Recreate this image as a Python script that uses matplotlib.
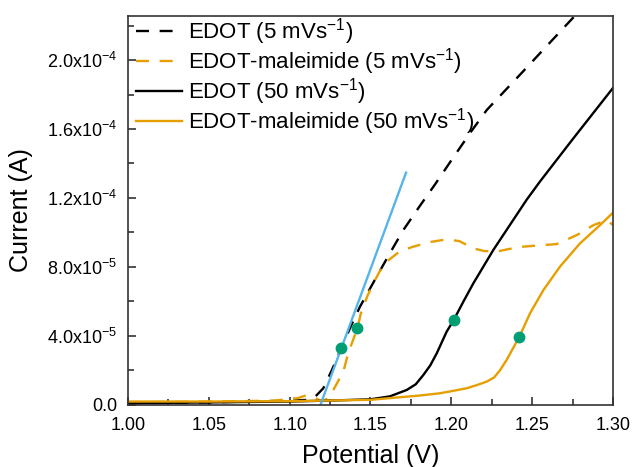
import math
import matplotlib
matplotlib.use("Agg")
import matplotlib.pyplot as plt
from matplotlib.ticker import MultipleLocator, FuncFormatter

plt.rcParams['font.family'] = ['Liberation Sans', 'DejaVu Sans']
plt.rcParams['mathtext.fontset'] = 'custom'
plt.rcParams['mathtext.rm'] = 'Liberation Sans'
plt.rcParams['mathtext.it'] = 'Liberation Sans:italic'
plt.rcParams['mathtext.bf'] = 'Liberation Sans:bold'

# EDOT 5 mV/s (black dashed), current in 1e-5 A
edot5_x = [1.000, 1.050, 1.100, 1.112, 1.116, 1.1208, 1.126, 1.132, 1.138, 1.1435, 1.1538,
           1.162, 1.1703, 1.1806, 1.190, 1.2012, 1.2126, 1.2219, 1.245, 1.2744, 1.285]
edot5_y = [0.1, 0.15, 0.25, 0.3, 0.5, 0.97, 2.0, 3.3, 4.6, 5.7, 7.44,
           8.8, 10.14, 11.55, 12.8, 14.35, 15.9, 17.1, 19.4, 22.36, 23.4]

# EDOT-maleimide 5 mV/s (orange dashed)
mal5_x = [1.000, 1.050, 1.090, 1.105, 1.110, 1.115, 1.120, 1.124, 1.127, 1.1332, 1.1362,
          1.1419, 1.144, 1.148, 1.1517, 1.156, 1.160, 1.168, 1.1765, 1.187, 1.1971,
          1.205, 1.2136, 1.220, 1.228, 1.236, 1.2445, 1.2652, 1.2776, 1.288, 1.2962, 1.300]
mal5_y = [0.15, 0.2, 0.25, 0.4, 0.55, 0.45, 0.2, 0.4, 0.87, 1.93, 3.0,
          4.45, 5.3, 6.3, 7.05, 7.8, 8.31, 8.9, 9.18, 9.45, 9.6,
          9.5, 9.08, 8.93, 8.89, 9.05, 9.18, 9.33, 9.85, 10.43, 10.72, 10.43]

# EDOT 50 mV/s (black solid)
edot50_x = [1.000, 1.050, 1.100, 1.130, 1.150, 1.162, 1.1724, 1.178, 1.1827, 1.187, 1.191,
            1.1971, 1.2015, 1.2075, 1.2136, 1.226, 1.2466, 1.2548, 1.275, 1.300]
edot50_y = [0.1, 0.15, 0.2, 0.27, 0.33, 0.5, 0.87, 1.2, 1.74, 2.3, 3.0,
            4.25, 4.93, 6.0, 7.05, 8.99, 11.9, 12.95, 15.4, 18.38]

# EDOT-maleimide 50 mV/s (orange solid)
mal50_x = [1.000, 1.050, 1.100, 1.150, 1.1806, 1.193, 1.2012, 1.2095, 1.2157, 1.222,
           1.2265, 1.2300, 1.2342, 1.2421, 1.2487, 1.257, 1.2672, 1.2796, 1.292, 1.300]
mal50_y = [0.2, 0.2, 0.22, 0.3, 0.55, 0.68, 0.82, 0.97, 1.15, 1.36,
           1.6, 2.0, 2.61, 3.96, 5.32, 6.67, 8.02, 9.37, 10.43, 11.15]

# tangent line (blue)
tan_x = [1.119, 1.172]
tan_y = [0.0, 13.47]

# marked points (green)
pts_x = [1.1317, 1.1419, 1.2015, 1.2421]
pts_y = [3.30, 4.45, 4.93, 3.96]

labels = ['EDOT (5 mVs$^{-1}$)', 'EDOT-maleimide (5 mVs$^{-1}$)',
          'EDOT (50 mVs$^{-1}$)', 'EDOT-maleimide (50 mVs$^{-1}$)']

scale = 1e-5
orange = '#E69F00'
blue = '#56B4E9'
green = '#009E73'

fig = plt.figure(figsize=(6.33, 4.67), dpi=100)
ax = fig.add_axes([0.2022, 0.1328, 0.7662, 0.8329])

lw = 1.7
dash = (5.5, 4.5)
ax.plot(edot5_x, [v * scale for v in edot5_y], color='black', lw=lw, dashes=dash, label=labels[0])
ax.plot(mal5_x, [v * scale for v in mal5_y], color=orange, lw=lw, dashes=dash, label=labels[1])
ax.plot(edot50_x, [v * scale for v in edot50_y], color='black', lw=lw, label=labels[2])
ax.plot(mal50_x, [v * scale for v in mal50_y], color=orange, lw=lw, label=labels[3])
ax.plot(tan_x, [v * scale for v in tan_y], color=blue, lw=lw)
ax.plot(pts_x, [v * scale for v in pts_y], 'o', color=green, ms=7.5, zorder=5)

ax.set_xlim(1.0, 1.3)
ax.set_ylim(0, 2.255e-4)
ax.xaxis.set_major_locator(MultipleLocator(0.05))
ax.xaxis.set_minor_locator(MultipleLocator(0.025))
ax.yaxis.set_major_locator(MultipleLocator(4e-5))
ax.yaxis.set_minor_locator(MultipleLocator(2e-5))
ax.xaxis.set_major_formatter(FuncFormatter(lambda v, p: f'{v:.2f}'))


def yfmt(v, p):
    if abs(v) < 1e-12:
        return '0.0'
    e = int(math.floor(math.log10(abs(v))))
    m = v / 10 ** e
    return f'{m:.1f}x10$^{{{e}}}$'


ax.yaxis.set_major_formatter(FuncFormatter(yfmt))
ax.tick_params(which='both', direction='in', top=False, right=False, labelsize=13,
               color='#333333', width=1.2)
ax.tick_params(which='major', length=6)
ax.tick_params(which='minor', length=4)
ax.tick_params(axis='x', pad=9)
ax.tick_params(axis='y', pad=8)
for s in ax.spines.values():
    s.set_linewidth(1.2)
    s.set_color('#333333')

ax.set_xlabel('Potential (V)', fontsize=18, labelpad=7)
ax.set_ylabel('Current (A)', fontsize=18, labelpad=10)

ax.legend(loc='upper left', bbox_to_anchor=(0.016, 1.0), frameon=False, fontsize=16,
          handlelength=2.1, handletextpad=0.25, labelspacing=-0.04,
          borderaxespad=0.0, borderpad=0.0)

fig.savefig('out.png', dpi=100)
